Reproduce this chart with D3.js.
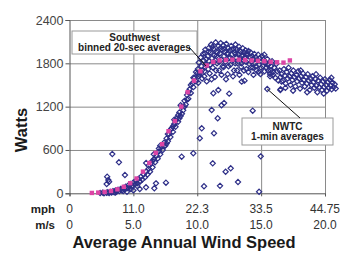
<!DOCTYPE html>
<html>
<head>
<meta charset="utf-8">
<script src="https://cdn.jsdelivr.net/npm/d3@7"></script>
<style>
  body { margin: 0; background: #fff; }
  text { font-family: "Liberation Sans", Arial, sans-serif; }
</style>
</head>
<body>
<div id="chart"></div>
<script>
/**
 * DATA
 * */
const wattTicks = [0, 600, 1200, 1800, 2400];
const msTicks = [0, 5, 10, 15, 20];
const msLabels = ["0", "5.0", "10.0", "15.0", "20.0"];
const mphLabels = ["0", "11.0", "22.3", "33.5", "44.75"];

// Southwest binned 20-sec averages [m/s, W]
const binnedSpeed = [1.75, 2.25, 2.75, 3.25, 3.75, 4.25, 4.75, 5.25, 5.75, 6.25, 6.75, 7.25,
  7.75, 8.25, 8.75, 9.25, 9.75, 10.25, 10.75, 11.25, 11.75, 12.25, 12.75, 13.25,
  13.75, 14.25, 14.75, 15.25, 15.75, 16.25, 16.75, 17.25];
const binnedWatts = [5, 10, 18, 32, 55, 90, 140, 205, 300, 420, 560, 680,
  860, 1000, 1200, 1400, 1560, 1690, 1770, 1820, 1840, 1845, 1850, 1850,
  1845, 1840, 1835, 1830, 1820, 1815, 1810, 1840];

// NWTC 1-min averages [m/s, W]
const nwtcPoints = [
  // low band
  [2.4,5],[2.6,10],[2.7,0],[2.9,8],[3.0,15],[3.1,5],[3.2,20],[3.3,10],[3.4,30],[3.5,15],
  [3.6,40],[3.7,25],[3.8,50],[3.9,30],[4.0,60],[4.1,40],[4.2,75],[4.3,55],[4.4,90],[4.5,70],
  [4.6,110],[4.7,85],[4.8,130],[4.9,100],[5.0,150],[5.1,120],[5.2,175],[5.3,140],[5.4,200],
  [5.5,165],[5.6,230],[5.7,190],[5.8,260],[5.9,220],[6.0,300],[6.1,260],[6.2,340],[6.3,300],
  [4.5,20],[5.0,40],[5.5,60],[3.6,10],[4.2,30],[4.8,60],[5.3,100],
  // rising band
  [6.2,380],[6.4,420],[6.5,360],[6.6,470],[6.7,430],[6.8,520],[6.9,480],[7.0,580],[7.1,540],
  [7.2,640],[7.3,600],[7.4,700],[7.5,660],[7.6,760],[7.7,720],[7.8,820],[7.9,780],[8.0,900],
  [8.1,850],[8.2,960],[8.3,920],[8.4,1040],[8.5,990],[8.6,1120],[8.7,1070],[8.8,1200],
  [8.9,1150],[9.0,1280],[9.1,1230],[9.2,1360],[9.3,1310],[9.4,1440],[9.5,1390],[9.6,1520],
  [9.7,1470],[9.8,1600],[9.9,1550],[10.0,1660],[10.1,1620],
  [6.5,450],[7.0,620],[7.4,650],[7.9,880],[8.3,1000],[8.5,1080],[8.8,1100],[9.0,1200],
  [9.3,1400],[9.5,1500],[9.7,1600],[9.9,1680],[7.6,690],[8.1,930],[8.6,1040],[9.2,1300],
  [6.0,420],[6.6,540],[7.1,660],[7.7,820],[8.2,1020],[8.7,1220],
  // main cloud
  [10.05,1720],[10.12,1810],[10.18,1640],[10.27,1880],[10.33,1760],[10.38,1590],[10.46,1930],
  [10.51,1840],[10.57,1690],[10.63,1990],[10.69,1780],[10.74,1550],[10.82,1900],[10.88,2010],
  [10.93,1830],[10.97,1660],[11.04,1950],[11.09,2060],[11.15,1870],[11.22,1740],[11.27,2000],
  [11.33,1910],[11.38,1610],[11.44,2090],[11.49,1960],[11.55,1800],[11.61,1880],[11.66,2040],
  [11.72,1700],[11.78,1940],[11.83,2080],[11.87,1850],[11.93,1990],[11.99,1760],[12.04,2050],
  [12.1,1900],[12.16,1960],[12.21,1820],[12.27,2070],[12.32,1930],[12.38,1650],[12.43,2010],
  [12.49,1870],[12.55,1980],[12.6,1780],[12.66,2040],[12.71,1920],[12.77,1850],[12.83,2000],
  [12.88,1700],[12.94,1950],[12.99,2060],[13.05,1880],[13.1,1990],[13.16,1800],[13.22,1930],
  [13.27,2030],[13.33,1860],[13.39,1960],[13.44,1750],[13.5,1900],[13.56,2010],[13.61,1830],
  [13.67,1950],[13.73,1880],[13.78,1980],[13.84,1720],[13.9,1910],[13.95,1840],[14.01,1970],
  [14.07,1790],[14.13,1890],[14.19,1950],[14.24,1820],[14.3,1900],[14.36,1740],[14.42,1860],
  [14.47,1930],[14.53,1800],[14.59,1880],[14.65,1700],[14.71,1850],[14.77,1920],[14.83,1780],
  [14.89,1870],[14.95,1650],[15.01,1830],[15.07,1900],[15.13,1760],[15.2,1850],[15.27,1690],
  [15.34,1810],[15.41,1740],[15.48,1860],[15.55,1700],[15.62,1790],[15.7,1620],[15.78,1760],
  [15.86,1830],[15.94,1680],[16.02,1740],[16.1,1600],[16.18,1790],[16.26,1690],
  [10.08,1530],[10.22,1670],[10.41,1710],[10.55,1620],[10.7,1860],[10.86,1720],[11.01,1780],
  [11.12,1580],[11.3,1820],[11.47,1700],[11.58,1950],[11.7,1820],[11.9,1640],[12.07,1750],
  [12.25,1580],[12.45,1760],[12.58,1880],[12.8,1620],[12.97,1800],[13.12,1700],[13.3,1640],
  [13.47,1800],[13.65,1700],[13.82,1820],[14.0,1680],[14.2,1740],[14.4,1640],[14.6,1760],
  [14.8,1680],[15.0,1740],[15.25,1920],[15.5,1780],[15.75,1700],
  [10.6,1940],[10.9,1960],[11.2,2030],[11.5,1900],[11.8,2010],[12.1,2000],[12.4,1940],
  [12.7,1990],[13.0,1930],[13.3,1980],[13.6,1910],[13.9,1940],
  // right band
  [16.45,1700],[16.52,1610],[16.6,1650],[16.7,1560],[16.78,1720],[16.85,1630],[16.92,1520],
  [17.0,1680],[17.08,1590],[17.15,1740],[17.22,1620],[17.3,1500],[17.37,1660],[17.45,1570],
  [17.52,1700],[17.6,1610],[17.68,1480],[17.75,1640],[17.82,1550],[17.9,1690],[17.97,1590],
  [18.05,1450],[18.12,1620],[18.2,1530],[18.28,1660],[18.35,1570],[18.42,1480],[18.5,1610],
  [18.58,1520],[18.65,1650],[18.72,1560],[18.8,1430],[18.87,1590],[18.95,1500],[19.02,1620],
  [19.1,1540],[19.17,1460],[19.25,1580],[19.32,1490],[19.4,1400],[19.47,1560],[19.55,1470],
  [19.62,1600],[19.7,1510],[19.77,1430],[19.85,1550],[19.92,1470],[20.0,1580],[20.08,1500],
  [20.15,1420],[20.22,1540],[20.3,1460],[20.38,1570],[20.45,1490],[20.52,1440],[20.6,1530],
  [20.68,1470],[20.76,1510],[20.84,1450],
  [16.9,1460],[17.5,1420],[18.1,1700],[18.6,1400],[19.3,1650],[19.9,1380],[20.5,1600],
  // outliers
  [3.35,544],[3.87,429],[4.34,253],[3.04,184],[2.91,129],[2.95,230],[3.1,160],[5.52,161],
  [5.99,83],[6.77,138],[7.55,147],[6.64,69],[8.78,507],[9.69,554],[10.35,900],[10.2,762],
  [11.31,831],[11.13,1154],[11.9,1220],[12.1,1250],[11.6,1039],[14.34,1144],[14.97,512],
  [14.84,22],[11.21,415],[12.22,299],[12.62,346],[13.19,157],[10.53,98],[11.78,103],
  [15.48,1444],[16.53,1440],[16.6,1546],[15.95,1638],[11.65,1431],[11.26,1385],[13.48,1546],
  [13.7,1560],[16.35,1560],[16.5,1431],[15.7,1653],[12.5,1380]
];

/**
 * SETUP
 * */
const width = 341, height = 254;
const x = d3.scaleLinear().domain([0, 20]).range([69.5, 325]);
const y = d3.scaleLinear().domain([0, 2400]).range([193.3, 20]);
const gridColor = "#8a8a8a";
const navy = "#2e2f88";
const pink = "#dc45a6";

const svg = d3.select("#chart").append("svg")
  .attr("width", width)
  .attr("height", height);

// gridlines
svg.append("g")
  .attr("transform", `translate(${x(0)},0)`)
  .call(d3.axisLeft(y).tickValues(wattTicks.slice(1)).tickSize(-(x(20) - x(0))).tickFormat(""))
  .call(g => g.select(".domain").remove())
  .call(g => g.selectAll("line").attr("stroke", gridColor));

svg.append("g")
  .attr("transform", `translate(0,${y(0)})`)
  .call(d3.axisBottom(x).tickValues(msTicks.slice(1)).tickSize(-(y(0) - y(2400))).tickFormat(""))
  .call(g => g.select(".domain").remove())
  .call(g => g.selectAll("line").attr("stroke", gridColor));

// y axis
svg.append("g")
  .attr("transform", `translate(${x(0)},0)`)
  .call(d3.axisLeft(y).tickValues(wattTicks).tickSize(4).tickPadding(2).tickFormat(d => String(d)))
  .call(g => g.select(".domain").attr("stroke", "#555"))
  .call(g => g.selectAll("line").attr("stroke", "#555"))
  .call(g => g.selectAll("text")
    .attr("font-size", 12.5)
    .attr("fill", "#444")
    .attr("font-family", "Liberation Sans, Arial, sans-serif"));

// x axis line + ticks
svg.append("g")
  .attr("transform", `translate(0,${y(0)})`)
  .call(d3.axisBottom(x).tickValues(msTicks).tickSize(3).tickFormat(""))
  .call(g => g.select(".domain").attr("stroke", "#555"))
  .call(g => g.selectAll("line").attr("stroke", "#555"));

// mph and m/s rows
const tickFont = "Liberation Sans Narrow, Arial Narrow, sans-serif";
svg.append("g").selectAll("text")
  .data(msTicks)
  .join("text")
  .attr("x", d => x(d))
  .attr("y", 213)
  .attr("text-anchor", "middle")
  .attr("font-size", 12)
  .attr("font-family", tickFont)
  .attr("fill", "#333")
  .text((d, i) => mphLabels[i]);

svg.append("g").selectAll("text")
  .data(msTicks)
  .join("text")
  .attr("x", d => x(d))
  .attr("y", 229)
  .attr("text-anchor", "middle")
  .attr("font-size", 12)
  .attr("font-family", tickFont)
  .attr("fill", "#333")
  .text((d, i) => msLabels[i]);

svg.append("text")
  .attr("x", 55).attr("y", 213)
  .attr("text-anchor", "end")
  .attr("font-size", 11.5).attr("font-weight", "bold").attr("fill", "#222")
  .text("mph");
svg.append("text")
  .attr("x", 55).attr("y", 229)
  .attr("text-anchor", "end")
  .attr("font-size", 11.5).attr("font-weight", "bold").attr("fill", "#222")
  .text("m/s");

// axis titles
svg.append("text")
  .attr("x", 184).attr("y", 248)
  .attr("text-anchor", "middle")
  .attr("font-size", 16.5).attr("font-weight", "bold").attr("fill", "#1a1a1a")
  .text("Average Annual Wind Speed");

svg.append("text")
  .attr("transform", "translate(27,130) rotate(-90)")
  .attr("text-anchor", "middle")
  .attr("font-size", 16.5).attr("font-weight", "bold").attr("fill", "#1a1a1a")
  .text("Watts");

// NWTC diamonds
const dm = 2.6;
svg.append("g").selectAll("path")
  .data(nwtcPoints)
  .join("path")
  .attr("d", d => {
    const cx = x(d[0]), cy = y(d[1]);
    return `M${cx},${cy - dm}L${cx + dm},${cy}L${cx},${cy + dm}L${cx - dm},${cy}Z`;
  })
  .attr("fill", "none")
  .attr("stroke", navy)
  .attr("stroke-width", 1.2);

// binned squares
svg.append("g").selectAll("rect")
  .data(binnedSpeed)
  .join("rect")
  .attr("x", (d, i) => x(d) - 2.2)
  .attr("y", (d, i) => y(binnedWatts[i]) - 2.2)
  .attr("width", 4.4)
  .attr("height", 4.4)
  .attr("fill", pink);

// annotation boxes
function note(x0, y0, w, h, lines, base, gap) {
  svg.append("rect")
    .attr("x", x0).attr("y", y0).attr("width", w).attr("height", h)
    .attr("fill", "#fff").attr("stroke", "#9a9a9a");
  svg.append("g").selectAll("text")
    .data(lines)
    .join("text")
    .attr("x", x0 + w / 2)
    .attr("y", (d, i) => y0 + base + i * gap)
    .attr("text-anchor", "middle")
    .attr("font-size", 10).attr("font-weight", "bold").attr("fill", "#222")
    .text(d => d);
}

note(72, 31, 125, 23, ["Southwest", "binned 20-sec averages"], 10, 9.5);
note(242, 118, 91, 27, ["NWTC", "1-min averages"], 12, 9.5);

svg.append("line")
  .attr("x1", 189).attr("y1", 47).attr("x2", 206).attr("y2", 66)
  .attr("stroke", "#111").attr("stroke-width", 1);
svg.append("line")
  .attr("x1", x(15.48)).attr("y1", y(1444)).attr("x2", 300).attr("y2", 118)
  .attr("stroke", "#111").attr("stroke-width", 1);
</script>
</body>
</html>
